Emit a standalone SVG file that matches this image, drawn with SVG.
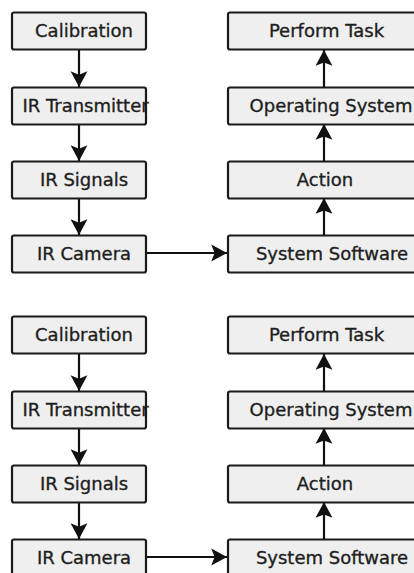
<svg xmlns="http://www.w3.org/2000/svg" width="414" height="573" viewBox="0 0 414 573">
<style>
.box{fill:#efefef;stroke:#1a1a1a;stroke-width:2.2}
.lbl{font-family:"DejaVu Sans","Liberation Sans",sans-serif;font-size:18px;fill:#1e1e1e;stroke:#1e1e1e;stroke-width:0.35;text-anchor:middle}
.con{stroke:#111;stroke-width:2.2;fill:none;marker-end:url(#ah)}
</style>
<defs>
<marker id="ah" markerUnits="userSpaceOnUse" markerWidth="18" markerHeight="18" viewBox="-14 -8 15 16" refX="0" refY="0" orient="auto">
<path d="M0,0 L-14,-7.5 L-11,0 L-14,7.5 Z" fill="#111"/>
</marker>
</defs>
<rect width="414" height="573" fill="#fff"/>
<g id="connectors">
<line class="con" x1="79" y1="50" x2="79" y2="87"/>
<line class="con" x1="79" y1="124" x2="79" y2="161"/>
<line class="con" x1="79" y1="198" x2="79" y2="235"/>
<line class="con" x1="147" y1="253" x2="227" y2="253"/>
<line class="con" x1="324" y1="235" x2="324" y2="198"/>
<line class="con" x1="324" y1="161" x2="324" y2="124"/>
<line class="con" x1="324" y1="87" x2="324" y2="50"/>
<line class="con" x1="79" y1="354" x2="79" y2="391"/>
<line class="con" x1="79" y1="428" x2="79" y2="465"/>
<line class="con" x1="79" y1="502" x2="79" y2="539"/>
<line class="con" x1="147" y1="557" x2="227" y2="557"/>
<line class="con" x1="324" y1="539" x2="324" y2="502"/>
<line class="con" x1="324" y1="465" x2="324" y2="428"/>
<line class="con" x1="324" y1="391" x2="324" y2="354"/>
</g>
<g id="calibration1"><rect class="box" x="12" y="12.5" width="134" height="37" rx="2"/><text class="lbl" x="84" y="36.5">Calibration</text></g>
<g id="irtransmitter1"><rect class="box" x="12" y="87.5" width="134" height="37" rx="2"/><text class="lbl" x="85.5" y="111.5">IR Transmitter</text></g>
<g id="irsignals1"><rect class="box" x="12" y="161.5" width="134" height="37" rx="2"/><text class="lbl" x="84" y="185.5">IR Signals</text></g>
<g id="ircamera1"><rect class="box" x="12" y="235.5" width="134" height="37" rx="2"/><text class="lbl" x="84" y="259.5">IR Camera</text></g>
<g id="performtask1"><rect class="box" x="228" y="12.5" width="194" height="37" rx="2"/><text class="lbl" x="326.5" y="36.5">Perform Task</text></g>
<g id="operatingsystem1"><rect class="box" x="228" y="87.5" width="194" height="37" rx="2"/><text class="lbl" x="331" y="111.5">Operating System</text></g>
<g id="action1"><rect class="box" x="228" y="161.5" width="194" height="37" rx="2"/><text class="lbl" x="325" y="185.5">Action</text></g>
<g id="systemsoftware1"><rect class="box" x="228" y="235.5" width="194" height="37" rx="2"/><text class="lbl" x="332" y="259.5">System Software</text></g>
<g id="calibration2"><rect class="box" x="12" y="316.5" width="134" height="37" rx="2"/><text class="lbl" x="84" y="340.5">Calibration</text></g>
<g id="irtransmitter2"><rect class="box" x="12" y="391.5" width="134" height="37" rx="2"/><text class="lbl" x="85.5" y="415.5">IR Transmitter</text></g>
<g id="irsignals2"><rect class="box" x="12" y="465.5" width="134" height="37" rx="2"/><text class="lbl" x="84" y="489.5">IR Signals</text></g>
<g id="ircamera2"><rect class="box" x="12" y="539.5" width="134" height="37" rx="2"/><text class="lbl" x="84" y="563.5">IR Camera</text></g>
<g id="performtask2"><rect class="box" x="228" y="316.5" width="194" height="37" rx="2"/><text class="lbl" x="326.5" y="340.5">Perform Task</text></g>
<g id="operatingsystem2"><rect class="box" x="228" y="391.5" width="194" height="37" rx="2"/><text class="lbl" x="331" y="415.5">Operating System</text></g>
<g id="action2"><rect class="box" x="228" y="465.5" width="194" height="37" rx="2"/><text class="lbl" x="325" y="489.5">Action</text></g>
<g id="systemsoftware2"><rect class="box" x="228" y="539.5" width="194" height="37" rx="2"/><text class="lbl" x="332" y="563.5">System Software</text></g>
</svg>
